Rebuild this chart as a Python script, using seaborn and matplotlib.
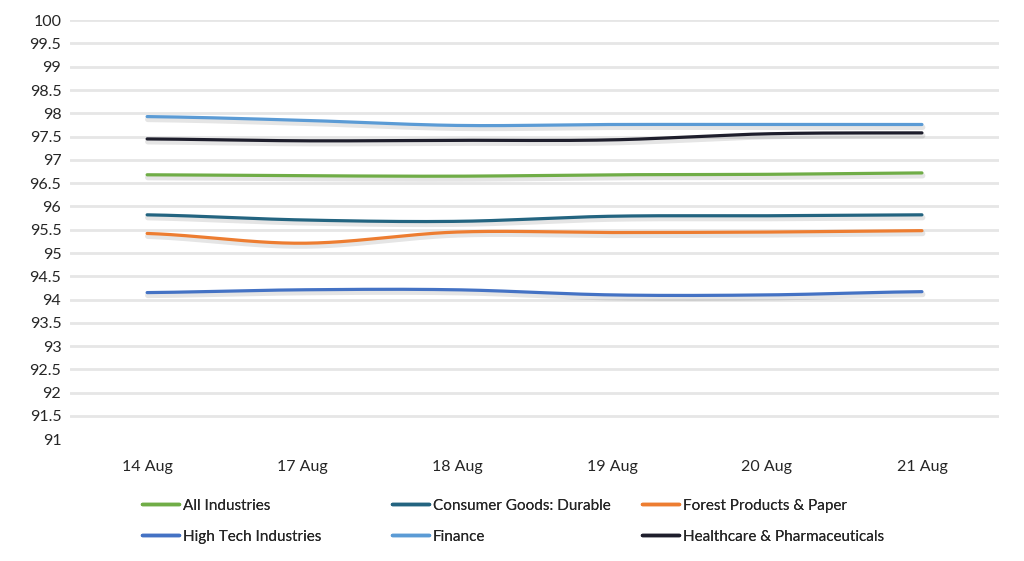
import numpy as np
import pandas as pd
import seaborn as sns
import matplotlib.pyplot as plt
import matplotlib.patheffects as pe
from matplotlib.lines import Line2D

# data
dates = ['14 Aug', '17 Aug', '18 Aug', '19 Aug', '20 Aug', '21 Aug']
all_industries = [96.68, 96.66, 96.65, 96.68, 96.69, 96.72]
consumer_durable = [95.82, 95.71, 95.68, 95.79, 95.80, 95.82]
forest_paper = [95.42, 95.21, 95.45, 95.44, 95.45, 95.48]
high_tech = [94.15, 94.21, 94.21, 94.10, 94.10, 94.17]
finance = [97.93, 97.85, 97.74, 97.76, 97.76, 97.76]
healthcare = [97.45, 97.41, 97.42, 97.43, 97.56, 97.58]

series = [
    ('All Industries', all_industries, '#70AD47'),
    ('Consumer Goods: Durable', consumer_durable, '#236480'),
    ('Forest Products & Paper', forest_paper, '#ED7D31'),
    ('High Tech Industries', high_tech, '#4472C4'),
    ('Finance', finance, '#5B9BD5'),
    ('Healthcare & Pharmaceuticals', healthcare, '#1E1E2C'),
]


def smooth(y, n=40):
    # catmull-rom curve through the points, like excel's smoothed line
    y = np.asarray(y, dtype=float)
    p = np.concatenate([[y[0]], y, [y[-1]]])
    xs, ys = [], []
    for i in range(len(y) - 1):
        p0, p1, p2, p3 = p[i], p[i + 1], p[i + 2], p[i + 3]
        t = np.linspace(0, 1, n, endpoint=(i == len(y) - 2))
        yy = 0.5 * ((2 * p1) + (-p0 + p2) * t + (2 * p0 - 5 * p1 + 4 * p2 - p3) * t ** 2
                    + (-p0 + 3 * p1 - 3 * p2 + p3) * t ** 3)
        xs.append(i + t)
        ys.append(yy)
    return np.concatenate(xs), np.concatenate(ys)


sns.set_theme(style='white')
plt.rcParams['font.family'] = ['Lato', 'DejaVu Sans']

fig = plt.figure(figsize=(10.24, 5.61), dpi=100)
ax = fig.add_axes([0.068, 0.217, 0.908, 0.747])

shadow = [pe.SimpleLineShadow(offset=(0.5, -2), shadow_color='black', alpha=0.1, linewidth=4),
          pe.Normal()]

for name, vals, col in series:
    sx, sy = smooth(vals)
    df = pd.DataFrame({'x': sx, 'y': sy})
    sns.lineplot(data=df, x='x', y='y', ax=ax, color=col, linewidth=2.3,
                 path_effects=shadow, solid_capstyle='round', sort=False)

ax.set_xlim(-0.5, len(dates) - 0.5)
ax.set_ylim(91, 100)
ax.set_xticks(range(len(dates)))
ax.set_xticklabels(dates)
yt = np.arange(91, 100.01, 0.5)
ax.set_yticks(yt)
ax.set_yticklabels([f'{v:g}' for v in yt])
ax.tick_params(axis='both', labelsize=11.5, colors='#262626', length=0)
ax.tick_params(axis='x', pad=15)
ax.tick_params(axis='y', pad=6)
for v in yt[1:]:
    ax.axhline(v, color='#e6e6e6', linewidth=2, zorder=0)
for s in ax.spines.values():
    s.set_visible(False)
ax.set_xlabel('')
ax.set_ylabel('')

# legend: three columns of two rows
cols = [series[0::3], series[1::3], series[2::3]]
xpos = [0.133, 0.377, 0.621]
for (x0, items) in zip(xpos, cols):
    handles = [Line2D([], [], color=c, linewidth=2.5) for _, _, c in items]
    labels = [n for n, _, _ in items]
    leg = fig.legend(handles, labels, loc='upper left', bbox_to_anchor=(x0, 0.122),
                     frameon=False, fontsize=11, handlelength=2.4,
                     handletextpad=0.25, labelspacing=1.12, borderaxespad=0)
    for t in leg.get_texts():
        t.set_color('#262626')
    fig.add_artist(leg)

fig.savefig('out.png', dpi=100)
